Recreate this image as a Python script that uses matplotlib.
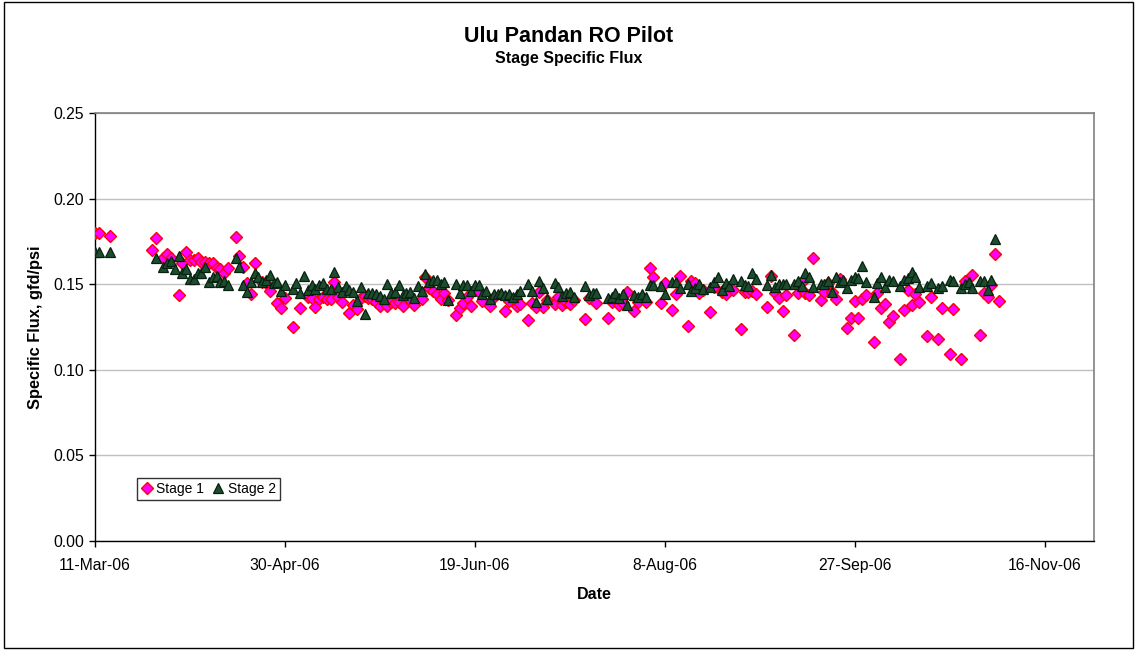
import numpy as np
import pandas as pd
import matplotlib
matplotlib.use("Agg")
import matplotlib.pyplot as plt
import matplotlib.dates as mdates
from matplotlib.ticker import FixedLocator, FuncFormatter
from matplotlib.patches import Rectangle

plt.rcParams['font.family'] = ['Liberation Sans', 'DejaVu Sans']

start_date = "2006-03-11"

# Stage 1: days after 11-Mar-06 and specific flux (gfd/psi)
s1_days = [0, 1, 4, 15, 16, 18, 19, 20, 22, 23, 24, 25, 26, 27, 28, 29, 30, 31, 32, 33, 34, 35,
           37, 38, 39, 40, 41, 42, 44, 45, 46, 48, 49, 50, 52, 54, 56, 57, 58, 59, 60, 61, 62,
           63, 64, 65, 67, 68, 69, 70, 71, 72, 73, 74, 75, 77, 78, 79, 80, 81, 83, 84, 86, 87,
           88, 89, 90, 91, 92, 93, 95, 96, 97, 98, 99, 101, 102, 104, 105, 108, 109, 111, 112,
           114, 115, 116, 117, 118, 119, 121, 122, 123, 124, 125, 126, 129, 130, 132, 135, 136,
           138, 139, 140, 142, 143, 145, 146, 147, 149, 150, 152, 153, 154, 156, 157, 158, 159,
           160, 162, 163, 165, 166, 168, 170, 171, 172, 173, 174, 177, 178, 179, 180, 181, 182,
           184, 185, 186, 187, 188, 189, 191, 192, 193, 194, 195, 196, 198, 199, 200, 201, 202,
           203, 205, 206, 207, 208, 209, 210, 212, 213, 214, 215, 216, 217, 219, 220, 222, 223,
           225, 226, 228, 229, 231, 233, 234, 235, 236, 237, 238]
s1_flux = [0.180, 0.180, 0.178, 0.170, 0.177, 0.1655, 0.1676, 0.1655, 0.1435, 0.1626, 0.1686,
           0.1641, 0.1641, 0.1655, 0.1632, 0.163, 0.1626, 0.1626, 0.1597, 0.1587, 0.1567, 0.1593,
           0.1774, 0.1665, 0.1602, 0.1509, 0.1443, 0.1626, 0.1515, 0.1507, 0.1458, 0.1392, 0.1363,
           0.1421, 0.1248, 0.1363, 0.1427, 0.1417, 0.1369, 0.1412, 0.1427, 0.1412, 0.1412, 0.1511,
           0.1427, 0.1394, 0.1332, 0.1378, 0.1353, 0.1417, 0.1431, 0.1417, 0.1412, 0.1398, 0.1374,
           0.1374, 0.1394, 0.1388, 0.1394, 0.1374, 0.1407, 0.1378, 0.1414, 0.154, 0.1476, 0.1462,
           0.1443, 0.1415, 0.1447, 0.1407, 0.1320, 0.1359, 0.1392, 0.1427, 0.1373, 0.1456, 0.1402,
           0.1374, 0.1427, 0.1345, 0.1402, 0.1373, 0.1384, 0.1291, 0.1392, 0.1369, 0.1456, 0.1369,
           0.1407, 0.1382, 0.1427, 0.1378, 0.1398, 0.1382, 0.1407, 0.1295, 0.1417, 0.1388, 0.1304,
           0.1398, 0.1378, 0.1388, 0.1453, 0.1343, 0.1398, 0.1398, 0.1593, 0.1540, 0.1392, 0.1505,
           0.1347, 0.1441, 0.1548, 0.1256, 0.1519, 0.1505, 0.1447, 0.1466, 0.1338, 0.1485, 0.1456,
           0.1441, 0.1466, 0.1236, 0.1456, 0.1456, 0.1462, 0.1443, 0.1369, 0.1548, 0.1447, 0.1421,
           0.1345, 0.1437, 0.1203, 0.1450, 0.1515, 0.1450, 0.1437, 0.1651, 0.1407, 0.1453, 0.1505,
           0.1456, 0.1412, 0.1528, 0.1246, 0.1300, 0.1404, 0.1300, 0.1414, 0.1437, 0.1160, 0.1450,
           0.1361, 0.1384, 0.1281, 0.1314, 0.1061, 0.1347, 0.1466, 0.1378, 0.1443, 0.1398, 0.1199,
           0.1427, 0.1178, 0.1361, 0.1092, 0.1353, 0.1061, 0.1520, 0.1554, 0.1203, 0.1447, 0.1425,
           0.1495, 0.1675, 0.1402]

# Stage 2
s2_days = [0, 1, 4, 16, 18, 19, 20, 21, 22, 23, 24, 25, 26, 27, 28, 29, 30, 31, 32, 33, 34, 35,
           37, 38, 39, 40, 41, 42, 43, 44, 45, 46, 47, 48, 49, 50, 52, 53, 54, 55, 56, 57, 58,
           59, 60, 61, 62, 63, 64, 65, 66, 67, 68, 69, 70, 71, 72, 73, 74, 75, 76, 77, 78, 79,
           80, 81, 82, 83, 84, 85, 86, 87, 88, 89, 90, 91, 92, 93, 95, 96, 97, 98, 99, 100, 101,
           102, 103, 104, 105, 106, 107, 108, 109, 110, 111, 112, 114, 115, 116, 117, 118, 119,
           121, 122, 123, 124, 125, 126, 129, 130, 131, 132, 135, 136, 137, 138, 139, 140, 142,
           143, 144, 145, 146, 147, 149, 150, 152, 153, 154, 156, 157, 158, 159, 160, 162, 163,
           164, 165, 166, 167, 168, 170, 171, 172, 173, 174, 177, 178, 179, 180, 181, 182, 184,
           185, 186, 187, 188, 189, 191, 192, 193, 194, 195, 196, 197, 198, 199, 200, 201, 202,
           203, 205, 206, 207, 208, 209, 210, 212, 213, 214, 215, 216, 217, 219, 220, 222, 223,
           225, 226, 228, 229, 230, 231, 233, 234, 235, 236, 237]
s2_flux = [0.1686, 0.1686, 0.1686, 0.1655, 0.1602, 0.1622, 0.1634, 0.1589, 0.1666, 0.1567, 0.159,
           0.1528, 0.1528, 0.1564, 0.1567, 0.160, 0.1515, 0.1544, 0.1548, 0.1511, 0.1519, 0.1495,
           0.1655, 0.1602, 0.1495, 0.1456, 0.1515, 0.1567, 0.1544, 0.1515, 0.1525, 0.1554, 0.1505,
           0.1515, 0.1462, 0.1497, 0.1474, 0.1509, 0.1447, 0.1550, 0.1466, 0.1497, 0.1470, 0.1497,
           0.1505, 0.1474, 0.1474, 0.1569, 0.1482, 0.1454, 0.1491, 0.1466, 0.1454, 0.1404, 0.1485,
           0.1325, 0.1447, 0.1447, 0.1441, 0.1433, 0.1412, 0.1501, 0.1450, 0.1454, 0.1495, 0.1437,
           0.1450, 0.1456, 0.1417, 0.1490, 0.1462, 0.1560, 0.1515, 0.1525, 0.1525, 0.1499, 0.1511,
           0.1407, 0.1499, 0.1447, 0.1493, 0.1493, 0.1462, 0.1493, 0.1493, 0.1441, 0.1462, 0.1412,
           0.1441, 0.1441, 0.1447, 0.1437, 0.1441, 0.1427, 0.1441, 0.1462, 0.1499, 0.1462, 0.1398,
           0.1519, 0.1479, 0.1412, 0.1507, 0.1482, 0.1433, 0.1447, 0.1454, 0.1427, 0.1490, 0.1437,
           0.1447, 0.1447, 0.1417, 0.1427, 0.1447, 0.1417, 0.1443, 0.1378, 0.1437, 0.1427, 0.1441,
           0.1425, 0.1493, 0.1493, 0.1490, 0.1443, 0.1515, 0.1515, 0.1479, 0.1499, 0.1462, 0.1476,
           0.1501, 0.1470, 0.1485, 0.1515, 0.1544, 0.1466, 0.1505, 0.1491, 0.1530, 0.1520, 0.1495,
           0.1490, 0.1567, 0.1528, 0.1495, 0.1554, 0.1485, 0.1499, 0.1499, 0.1499, 0.1499, 0.1520,
           0.1490, 0.1564, 0.1544, 0.1485, 0.1499, 0.1499, 0.1520, 0.1456, 0.1544, 0.1511, 0.1525,
           0.1476, 0.1525, 0.1544, 0.1534, 0.1606, 0.1515, 0.1427, 0.1509, 0.1544, 0.1485, 0.1525,
           0.1519, 0.1491, 0.1525, 0.1534, 0.1573, 0.1540, 0.1482, 0.1491, 0.1505, 0.1479, 0.1491,
           0.1525, 0.1519, 0.1476, 0.1501, 0.1511, 0.1476, 0.1520, 0.1520, 0.1466, 0.1525, 0.1762]

series_labels = ["Stage 1", "Stage 2"]
y_ticks = [0.00, 0.05, 0.10, 0.15, 0.20, 0.25]
x_tick_step_days = 50
x_span_days = 263

t0 = pd.Timestamp(start_date)
s1_dates = t0 + pd.to_timedelta(s1_days, unit="D")
s2_dates = t0 + pd.to_timedelta(s2_days, unit="D")

fig = plt.figure(figsize=(11.38, 6.5), dpi=100)
ax = fig.add_axes([95 / 1138, 1 - 541 / 650, 999 / 1138, 428 / 650])

ax.plot(s1_dates, s1_flux, linestyle="none", marker="D", markersize=5.8,
        markerfacecolor="#FF00FF", markeredgecolor="#FF0000", markeredgewidth=1.0,
        label=series_labels[0], zorder=3)
ax.plot(s2_dates, s2_flux, linestyle="none", marker="^", markersize=6.8,
        markerfacecolor="#1B4D2E", markeredgecolor="#082010", markeredgewidth=0.9,
        label=series_labels[1], zorder=4)

x0 = mdates.date2num(t0)
ax.set_xlim(x0, x0 + x_span_days)
ax.set_ylim(0, 0.25)

xt = [x0 + k * x_tick_step_days for k in range(6)]
ax.xaxis.set_major_locator(FixedLocator(xt))


def fmt_date(v, pos=None):
    d = mdates.num2date(v)
    return f"{d.day}-{d:%b-%y}"


ax.xaxis.set_major_formatter(FuncFormatter(fmt_date))
ax.set_yticks(y_ticks)
ax.yaxis.set_major_formatter(FuncFormatter(lambda v, p: f"{v:.2f}"))

ax.tick_params(axis="both", direction="out", length=4, width=1, labelsize=11.3,
               colors="black")
ax.tick_params(axis="x", pad=8)
ax.tick_params(axis="y", pad=4)
ax.grid(axis="y", color="#c0c0c0", linewidth=1)
ax.set_axisbelow(True)

for side in ("left", "bottom"):
    ax.spines[side].set_color("black")
    ax.spines[side].set_linewidth(1)
for side in ("top", "right"):
    ax.spines[side].set_color("#808080")
    ax.spines[side].set_linewidth(1.2)

ax.set_xlabel("Date", fontsize=11.5, fontweight="bold", labelpad=10)
ax.set_ylabel("Specific Flux, gfd/psi", fontsize=11.8, fontweight="bold", labelpad=7)

leg = ax.legend(loc="lower left", bbox_to_anchor=(0.042, 0.096), ncol=2, fontsize=10,
                frameon=True, fancybox=False, edgecolor="black", handlelength=0.8,
                handletextpad=0.3, columnspacing=0.6, borderpad=0.3, borderaxespad=0,
                markerscale=1.0)
leg.get_frame().set_linewidth(1)

fig.text(0.5, 1 - 36 / 650, "Ulu Pandan RO Pilot", ha="center", va="center",
         fontsize=15.5, fontweight="bold")
fig.text(0.5, 1 - 58 / 650, "Stage Specific Flux", ha="center", va="center",
         fontsize=11.5, fontweight="bold")

fig.patches.append(Rectangle((4 / 1138, 2 / 650), 1129 / 1138, 646 / 650,
                             transform=fig.transFigure, fill=False,
                             edgecolor="black", linewidth=1))

fig.savefig("out.png", dpi=100)
